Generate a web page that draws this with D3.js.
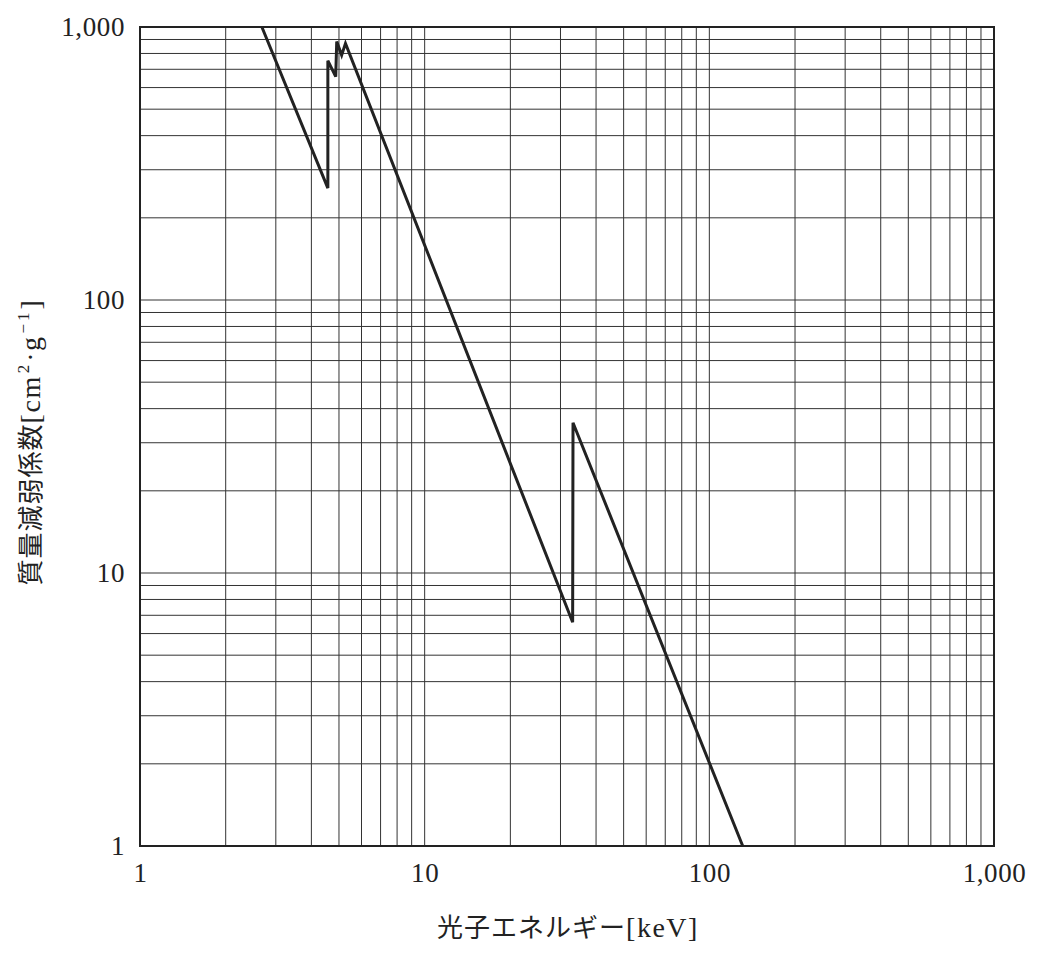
<!DOCTYPE html>
<html>
<head>
<meta charset="utf-8">
<script src="https://cdn.jsdelivr.net/npm/d3@7"></script>
<style>
    body { margin: 0; background: #fff; }
    svg text { font-family: "Liberation Serif", "Noto Sans CJK JP", serif; fill: #222; }
</style>
</head>
<body>
<div id="chart"></div>
<script>
// photon energy [keV] and mass attenuation coefficient [cm2/g]
const energies = [2.68, 4.57, 4.57, 4.87, 4.91, 5.11, 5.27, 33.1, 33.2, 131];
const attenuation = [1000, 257, 753, 658, 884, 789, 871, 6.6, 35.5, 1];
const xTickValues = [1, 10, 100, 1000];
const yTickValues = [1, 10, 100, 1000];
// title pieces: [text, kind]  kind: "cjk", "latin", "sup"
const xTitleParts = [["光子エネルギー", "cjk"], ["[keV]", "latin"]];
const yTitleParts = [["質量減弱係数", "cjk"], ["[cm", "latin"], ["2", "sup"], ["·g", "latin"], ["−1", "sup"], ["]", "latin"]];

const partStyle = {
    cjk: { size: "26px", spacing: "1px", family: "\"Noto Sans CJK JP\", sans-serif" },
    latin: { size: "28px", spacing: "1.5px", family: "\"Liberation Serif\", serif" },
    sup: { size: "17px", spacing: "3px", family: "\"Liberation Serif\", serif" }
};

const addTitle = (sel, parts) => {
    let prevSup = false;
    sel.selectAll("tspan")
        .data(parts)
        .enter().append("tspan")
            .attr("dx", d => d[1] === "sup" ? 2 : 0)
            .attr("dy", d => {
                const isSup = d[1] === "sup";
                const dy = isSup && !prevSup ? -11 : (!isSup && prevSup ? 11 : 0);
                prevSup = isSup;
                return dy;
            })
            .style("font-family", d => partStyle[d[1]].family)
            .style("font-size", d => partStyle[d[1]].size)
            .style("letter-spacing", d => partStyle[d[1]].spacing)
            .text(d => d[0]);
};

const createAttenuationChart = (graphId) => {
    const data = energies.map((e, i) => ({ key: e, value: attenuation[i] }));

    const margin = { top: 27, right: 50, bottom: 114, left: 140 },
        width = 1044 - margin.left - margin.right,
        height = 960 - margin.top - margin.bottom;

    const svg = d3.select(graphId)
        .append("svg")
            .attr("width", width + margin.left + margin.right)
            .attr("height", height + margin.top + margin.bottom)
        .append("g")
            .attr("transform", `translate(${margin.left},${margin.top})`);

    const x = d3.scaleLog()
        .domain([1, 1000])
        .range([0, width]);

    const y = d3.scaleLog()
        .domain([1, 1000])
        .range([height, 0]);

    // grid
    svg.append("g")
        .selectAll("line")
        .data(x.ticks())
        .enter().append("line")
            .attr("x1", d => x(d))
            .attr("x2", d => x(d))
            .attr("y1", 0)
            .attr("y2", height)
            .attr("stroke", "#333")
            .attr("stroke-width", 1);

    svg.append("g")
        .selectAll("line")
        .data(y.ticks())
        .enter().append("line")
            .attr("x1", 0)
            .attr("x2", width)
            .attr("y1", d => y(d))
            .attr("y2", d => y(d))
            .attr("stroke", "#333")
            .attr("stroke-width", 1);

    svg.append("rect")
        .attr("width", width)
        .attr("height", height)
        .attr("fill", "none")
        .attr("stroke", "#222")
        .attr("stroke-width", 2);

    const line = d3.line()
        .x(d => x(d.key))
        .y(d => y(d.value));

    svg.append("path")
        .datum(data)
        .attr("fill", "none")
        .attr("stroke", "#222")
        .attr("stroke-width", 3)
        .attr("stroke-linejoin", "miter")
        .attr("d", line);

    const xAxisGroup = svg.append("g")
        .attr("transform", `translate(0,${height})`)
        .call(d3.axisBottom(x).tickValues(xTickValues).tickFormat(d3.format(",")).tickSize(0).tickPadding(17));

    const yAxisGroup = svg.append("g")
        .call(d3.axisLeft(y).tickValues(yTickValues).tickFormat(d3.format(",")).tickSize(0).tickPadding(15));

    [xAxisGroup, yAxisGroup].forEach(g => {
        g.select(".domain").remove();
        g.selectAll("text")
            .style("font-family", "\"Liberation Serif\", serif")
            .style("font-size", "27px")
            .style("letter-spacing", "0.6px")
            .style("fill", "#222");
    });

    const xLabel = svg.append("text")
        .attr("x", 428)
        .attr("y", height + 91)
        .attr("text-anchor", "middle");
    addTitle(xLabel, xTitleParts);

    const yLabel = svg.append("text")
        .attr("transform", "rotate(-90)")
        .attr("x", -(442 - margin.top))
        .attr("y", -100)
        .attr("text-anchor", "middle");
    addTitle(yLabel, yTitleParts);

    return svg;
};

createAttenuationChart("#chart");
</script>
</body>
</html>
